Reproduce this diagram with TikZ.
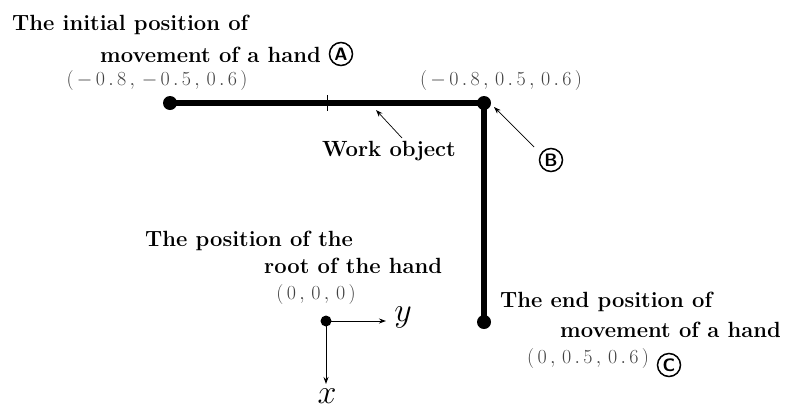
\RequirePackage{fix-cm}
\documentclass[tikz,border=0pt]{standalone}
\usepackage{fontspec}
\usetikzlibrary{arrows.meta}
\begin{document}
\begin{tikzpicture}[x=1pt,y=-1pt,
  lbl/.style={font=\fontsize{22}{26}\selectfont\bfseries, inner sep=0pt, anchor=west},
  crd/.style={font=\fontsize{20}{24}\selectfont, text=black!75, inner sep=0pt},
  circ/.style={draw, circle, line width=1.5pt, inner sep=0.5pt, minimum size=23pt, font=\fontsize{18}{18}\selectfont\sffamily\bfseries},
  dot/.style={circle, fill=black, inner sep=0pt, minimum size=#1},
  thin arrow/.style={-{Stealth[length=7pt,width=5pt]}, line width=0.7pt},
  axis/.style={-{Stealth[length=7pt,width=5pt]}, line width=0.9pt}]
\useasboundingbox (0,0) rectangle (791,410);
% labels top-left
\node[lbl] (t1) at (12,25) {The initial position of};
\node[lbl] (t2) at (100,55) {movement of a hand};
\node[circ] (A) at (341,54) {A};
\node[crd] (ca) at (157,80) {$(\,-\,0\,.\,8\,,\,-\,0\,.\,5\,,\,0\,.\,6\,)$};
% path
\coordinate (pA) at (170,103);
\coordinate (pB) at (484,103);
\coordinate (pC) at (484,322);
\draw[line width=6pt] (pA) -- (pB) -- (pC);
\node[dot=14pt] (dA) at (pA) {};
\node[dot=14pt] (dB) at (pB) {};
\node[dot=14pt] (dC) at (pC) {};
\coordinate (tk1) at (327,95);
\coordinate (tk2) at (327,111);
\draw[line width=0.8pt] (tk1) -- (tk2);
\node[crd] (cb) at (501,80) {$(\,-\,0\,.\,8\,,\,0\,.\,5\,,\,0\,.\,6\,)$};
% work object
\node[lbl, anchor=center] (wo) at (389,151) {Work object};
\coordinate (wot) at (402,138);
\coordinate (woh) at (376,110);
\draw[thin arrow] (wot) -- (woh);
% B
\node[circ] (B) at (551,160) {B};
\coordinate (bt) at (534,147);
\coordinate (bh) at (494,107);
\draw[thin arrow] (bt) -- (bh);
% root
\node[lbl] (r1) at (145,241) {The position of the};
\node[lbl] (r2) at (264,266) {root of the hand};
\node[crd] (c0) at (316,294) {$(\,0\,,\,0\,,\,0\,)$};
\node[dot=11pt] (o) at (326,321) {};
\coordinate (ye) at (386,321);
\coordinate (xe) at (326,384);
\draw[axis] (o.center) -- (ye);
\draw[axis] (o.center) -- (xe);
\node[font=\fontsize{34}{34}\selectfont, inner sep=0pt] (ylab) at (403,317) {$y$};
\node[font=\fontsize{34}{34}\selectfont, inner sep=0pt] (xlab) at (327,396) {$x$};
% end
\node[lbl] (e1) at (500,302) {The end position of};
\node[lbl] (e2) at (560,330) {movement of a hand};
\node[crd] (cc) at (588,358) {$(\,0\,,\,0\,.\,5\,,\,0\,.\,6\,)$};
\node[circ] (C) at (669,365) {C};
\end{tikzpicture}
\end{document}
